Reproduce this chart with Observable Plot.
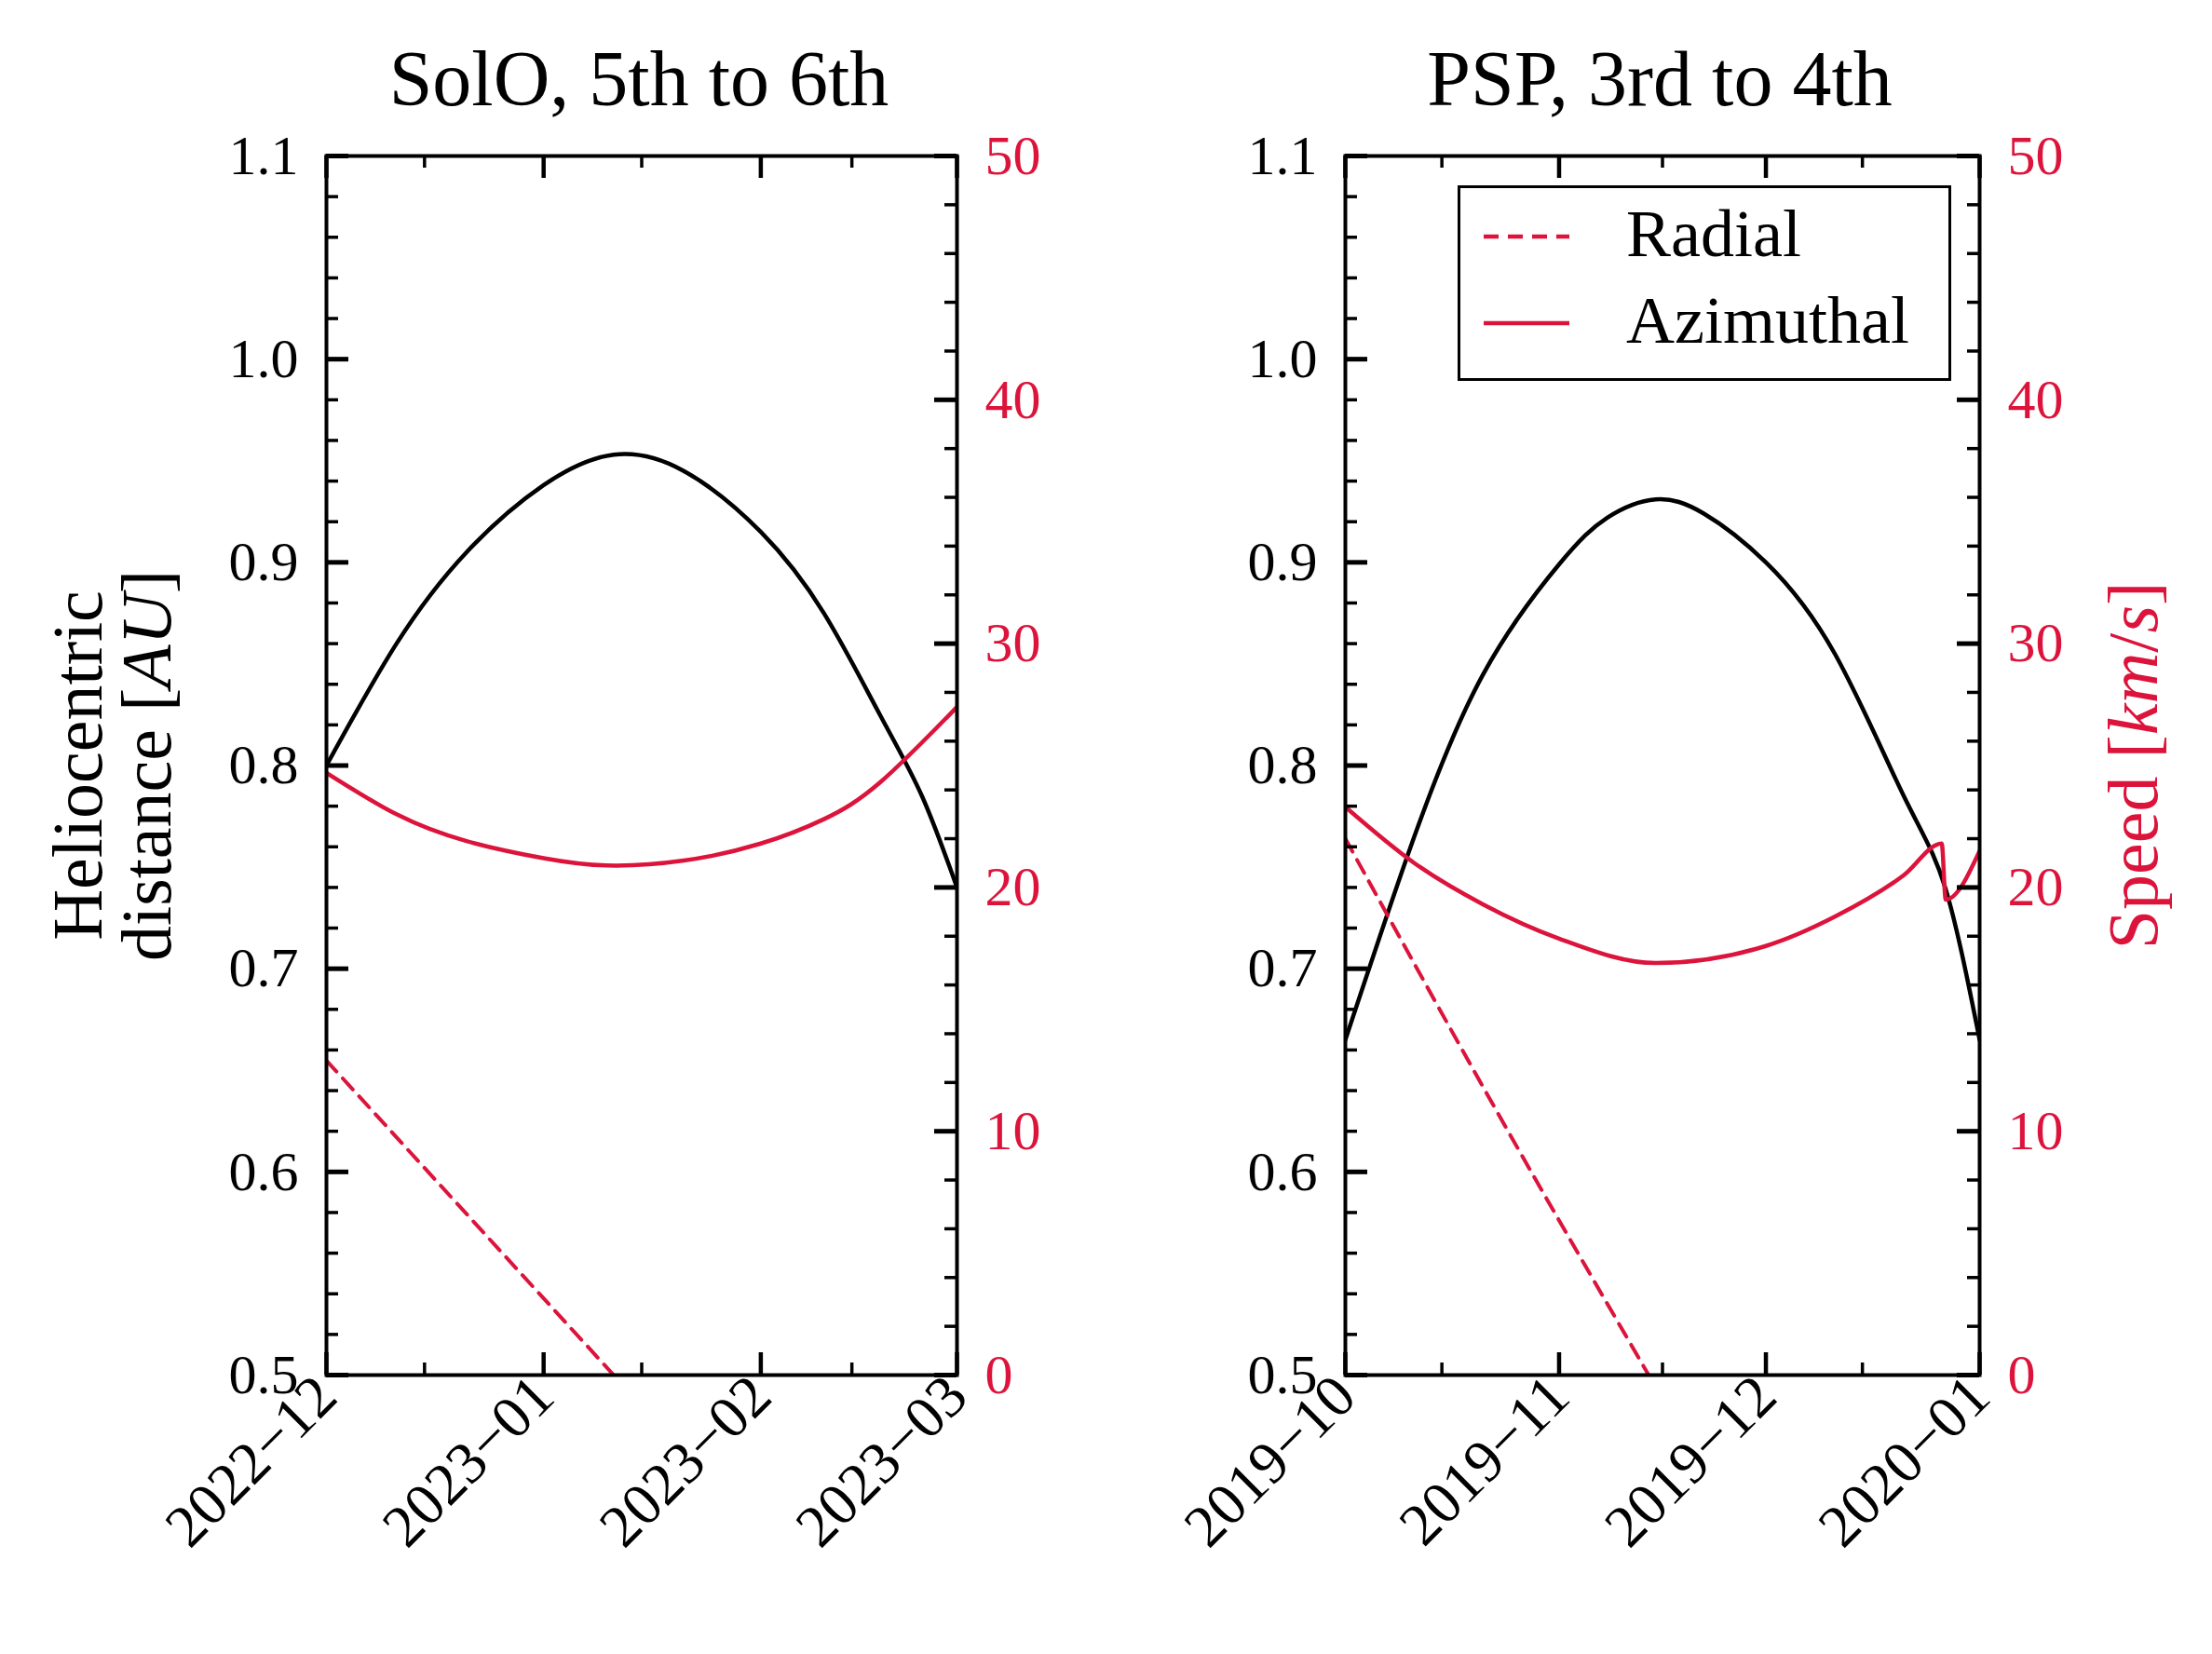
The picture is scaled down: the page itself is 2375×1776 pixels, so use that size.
<!DOCTYPE html>
<html><head><meta charset="utf-8">
<script src="https://cdn.jsdelivr.net/npm/d3@7"></script>
<script src="https://cdn.jsdelivr.net/npm/@observablehq/plot@0.6"></script>
<style>
body{margin:0;background:#fff;font-family:"Liberation Serif","DejaVu Serif",serif;}
#wrap{position:relative;width:2375px;height:1776px;}
.abs{position:absolute;}
.title{font-size:84px;transform:translateX(-50%);white-space:nowrap;}
.rot{transform:translate(-50%,-50%) rotate(-90deg);white-space:nowrap;font-size:76px;text-align:center;line-height:74px;}
</style></head>
<body><div id="wrap"></div>
<script>
// SolO, 5th to 6th perihelion
const soloDomain = ["2022-12-01", "2023-03-01"];
const soloMajor = ["2022-12-01", "2023-01-01", "2023-02-01", "2023-03-01"];
const soloMinor = ["2022-12-15", "2023-01-15", "2023-02-14"];
const soloDistDates = ["2022-12-01","2022-12-11","2022-12-21","2023-01-01","2023-01-11","2023-01-21","2023-02-01","2023-02-10","2023-02-18","2023-02-24","2023-03-01"];
const soloDist = [0.800,0.860,0.905,0.938,0.953,0.945,0.915,0.875,0.825,0.785,0.740];
const soloAziDates = ["2022-12-01","2022-12-11","2022-12-21","2023-01-01","2023-01-10","2023-01-21","2023-02-01","2023-02-10","2023-02-18","2023-03-01"];
const soloAzi = [24.7,23.0,21.9,21.2,20.9,21.1,21.8,22.8,24.3,27.4];
const soloRadDates = ["2022-12-01","2023-01-11"];
const soloRad = [12.9,0];

// PSP, 3rd to 4th perihelion
const pspDomain = ["2019-10-01", "2020-01-01"];
const pspMajor = ["2019-10-01", "2019-11-01", "2019-12-01", "2020-01-01"];
const pspMinor = ["2019-10-15", "2019-11-16", "2019-12-15"];
const pspDistDates = ["2019-10-01","2019-10-11","2019-10-21","2019-11-01","2019-11-08","2019-11-15","2019-11-22","2019-12-01","2019-12-11","2019-12-21","2019-12-27","2020-01-01"];
const pspDist = [0.665,0.765,0.845,0.899,0.922,0.931,0.924,0.900,0.855,0.785,0.740,0.665];
const pspAziDates = ["2019-10-01","2019-10-11","2019-10-21","2019-11-01","2019-11-15","2019-12-01","2019-12-11","2019-12-21","2019-12-26T12:00","2019-12-27T02:00","2020-01-01"];
const pspAzi = [23.3,21.0,19.3,17.9,16.9,17.6,18.8,20.5,21.8,19.5,21.5];
const pspRadDates = ["2019-10-01","2019-10-23","2019-11-14"];
const pspRad = [22.0,10.8,0];

const RED = "#dc143c";
const distTicks = [0.5,0.6,0.7,0.8,0.9,1.0,1.1];
const distMinor = d3.range(0.5, 1.1001, 0.02);
const speedTicks = [0,10,20,30,40,50];
const speedMinor = d3.range(0, 50.01, 2);
const toD = s => 0.5 + s * 0.012;
const P = s => new Date(s + (s.length > 10 ? "Z" : "T00:00Z"));
const rows = (dates, vals, f) => dates.map((d, i) => ({x: P(d), y: f ? f(vals[i]) : vals[i]}));

function panel(o) {
  const W = o.width, H = 1600, mt = 37, mb = 254;
  const pw = W - o.ml - o.mr, ph = H - mt - mb;
  const maj = 24, mnr = 13;
  return Plot.plot({
    width: W, height: H, marginLeft: o.ml, marginRight: o.mr, marginTop: mt, marginBottom: mb,
    style: {fontFamily: "Liberation Serif, DejaVu Serif, serif", fontSize: "60px", background: "transparent", overflow: "visible"},
    x: {type: "utc", domain: o.domain.map(P)},
    y: {domain: [0.5, 1.1]},
    marks: [
      Plot.line(rows(o.distDates, o.dist), {x: "x", y: "y", stroke: "black", strokeWidth: 4.5, curve: "natural", clip: true}),
      Plot.line(rows(o.aziDates, o.azi, toD), {x: "x", y: "y", stroke: RED, strokeWidth: 4.5, curve: o.aziCurve, clip: true}),
      Plot.line(rows(o.radDates, o.rad, toD), {x: "x", y: "y", stroke: RED, strokeWidth: 4, strokeDasharray: "16,10", curve: "natural", clip: true}),
      // left ticks (distance)
      Plot.tickY(distTicks, {y: d => d, stroke: "black", strokeWidth: 5, insetRight: pw - maj}),
      Plot.tickY(distMinor, {y: d => d, stroke: "black", strokeWidth: 3.5, insetRight: pw - mnr}),
      // right ticks (speed)
      Plot.tickY(speedTicks, {y: toD, stroke: "black", strokeWidth: 5, insetLeft: pw - maj}),
      Plot.tickY(speedMinor, {y: toD, stroke: "black", strokeWidth: 3.5, insetLeft: pw - mnr}),
      // x ticks bottom and top
      Plot.tickX(o.major.map(P), {x: d => d, stroke: "black", strokeWidth: 4.5, insetTop: ph - maj}),
      Plot.tickX(o.major.map(P), {x: d => d, stroke: "black", strokeWidth: 4.5, insetBottom: ph - maj}),
      Plot.tickX(o.minor.map(P), {x: d => d, stroke: "black", strokeWidth: 3.5, insetTop: ph - mnr}),
      Plot.tickX(o.minor.map(P), {x: d => d, stroke: "black", strokeWidth: 3.5, insetBottom: ph - mnr}),
      Plot.axisY(distTicks, {anchor: "left", tickSize: 0, tickPadding: 30, tickFormat: d => d.toFixed(1), label: null, fontSize: 60}),
      Plot.axisY(speedTicks.map(toD), {anchor: "right", tickSize: 0, tickPadding: 30, tickFormat: d => String(Math.round((d - 0.5) / 0.012)), label: null, fill: RED, fontSize: 60}),
      Plot.axisX(o.major.map(P), {anchor: "bottom", tickSize: 0, tickPadding: 12, tickRotate: -45, tickFormat: d => d3.utcFormat("%Y")(d) + "\u2212" + d3.utcFormat("%m")(d), label: null, fontSize: 64}),
      Plot.frame({stroke: "black", strokeWidth: 4})
    ]
  });
}

const wrap = document.getElementById("wrap");
function place(el, left, top) { el.style.position = "absolute"; el.style.left = left + "px"; el.style.top = top + "px"; wrap.append(el); }

place(panel({width: 1100, ml: 350, mr: 73, domain: soloDomain, major: soloMajor, minor: soloMinor,
  distDates: soloDistDates, dist: soloDist, aziDates: soloAziDates, azi: soloAzi, aziCurve: "natural",
  radDates: soloRadDates, rad: soloRad}), 0, 130);
place(panel({width: 1275, ml: 344, mr: 250, domain: pspDomain, major: pspMajor, minor: pspMinor,
  distDates: pspDistDates, dist: pspDist, aziDates: pspAziDates, azi: pspAzi, aziCurve: "monotone-x",
  radDates: pspRadDates, rad: pspRad}), 1100, 130);

wrap.insertAdjacentHTML("beforeend", `
<div class="abs title" style="left:686px;top:36px;">SolO, 5th to 6th</div>
<div class="abs title" style="left:1782px;top:36px;">PSP, 3rd to 4th</div>
<div class="abs rot" style="left:120px;top:822px;">Heliocentric<br>distance [<i>AU</i>]</div>
<div class="abs rot" style="left:2290px;top:822px;color:${RED};">Speed [<i>km</i>/<i>s</i>]</div>
<div class="abs" style="left:1565px;top:199px;width:524px;height:204px;border:3px solid black;background:white;font-size:72px;">
  <svg class="abs" style="left:25px;top:0" width="110" height="204">
    <line x1="0" x2="92" y1="52" y2="52" stroke="${RED}" stroke-width="4.5" stroke-dasharray="16,10"/>
    <line x1="0" x2="92" y1="145" y2="145" stroke="${RED}" stroke-width="4.5"/>
  </svg>
  <div class="abs" style="left:178px;top:8px;">Radial</div>
  <div class="abs" style="left:178px;top:101px;">Azimuthal</div>
</div>`);
</script></body></html>
